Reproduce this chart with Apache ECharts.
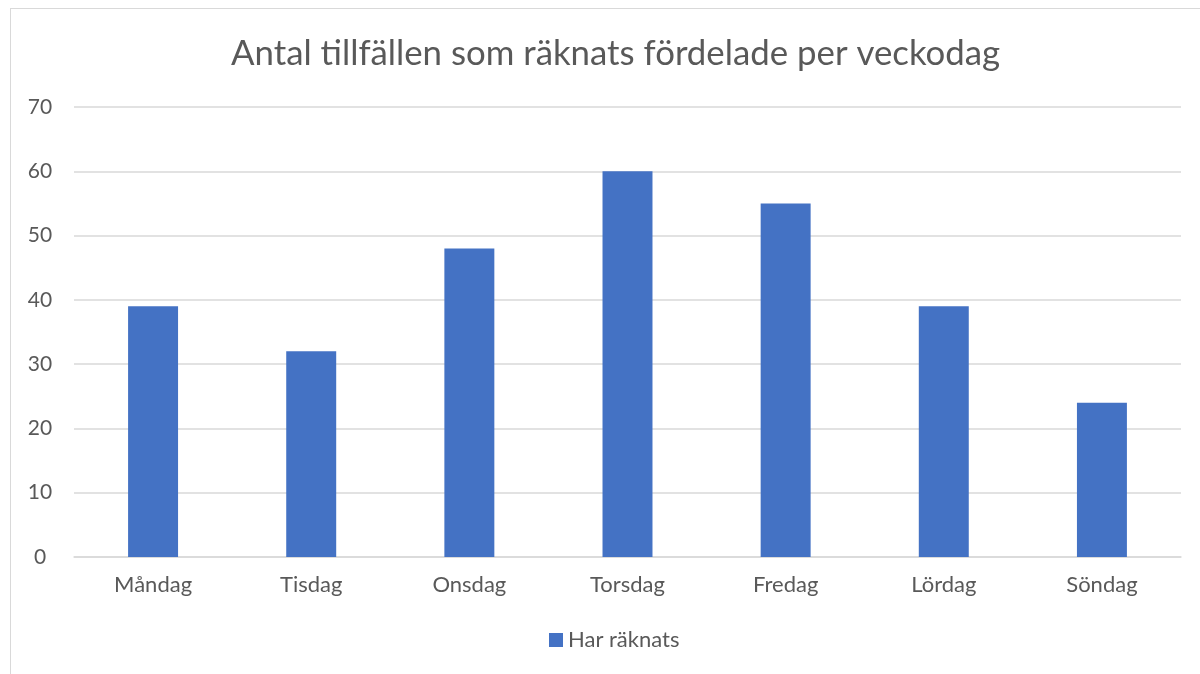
<!DOCTYPE html>
<html>
<head>
<meta charset="utf-8">
<script src="https://cdn.jsdelivr.net/npm/echarts@6/dist/echarts.min.js"></script>
<style>
  html, body { margin: 0; padding: 0; background: #fff; }
  #frame { position: absolute; left: 10px; top: 8px; width: 1260px; height: 720px; border: 1px solid #d9d9d9; }
  #chart { position: absolute; left: 0; top: 0; width: 1200px; height: 674px; }
</style>
</head>
<body>
<div id="frame"></div>
<div id="chart"></div>
<script>
const days = ['Måndag', 'Tisdag', 'Onsdag', 'Torsdag', 'Fredag', 'Lördag', 'Söndag'];
const counted = [39, 32, 48, 60, 55, 39, 24];
const seriesName = 'Har räknats';
const titleText = 'Antal tillfällen som räknats fördelade per veckodag';

const textColor = '#595959';
const font = 'Lato, "Open Sans", sans-serif';

const chart = echarts.init(document.getElementById('chart'));
chart.setOption({
  animation: false,
  title: {
    text: titleText,
    left: 226,
    top: 31,
    textStyle: { color: textColor, fontSize: 34.8, fontWeight: 'normal', fontFamily: font }
  },
  legend: {
    bottom: 18,
    left: 544,
    itemWidth: 14,
    itemHeight: 14,
    icon: 'rect',
    itemGap: 10,
    textStyle: { color: textColor, fontSize: 22, fontFamily: font }
  },
  grid: { left: 74, right: 19, top: 107, bottom: 117 },
  xAxis: {
    type: 'category',
    data: days,
    axisLine: { lineStyle: { color: '#d9d9d9', width: 1.5 } },
    axisTick: { show: false },
    axisLabel: { color: textColor, fontSize: 22, fontFamily: font, margin: 17 }
  },
  yAxis: {
    type: 'value',
    min: 0,
    max: 70,
    interval: 10,
    splitLine: { lineStyle: { color: '#d9d9d9', width: 1.5 } },
    axisLine: { show: false },
    axisLabel: { color: textColor, fontSize: 21, fontFamily: font, margin: 34, align: 'center' }
  },
  series: [{
    name: seriesName,
    type: 'bar',
    data: counted,
    barWidth: '31.6%',
    itemStyle: { color: '#4472c4' }
  }]
});
</script>
</body>
</html>
